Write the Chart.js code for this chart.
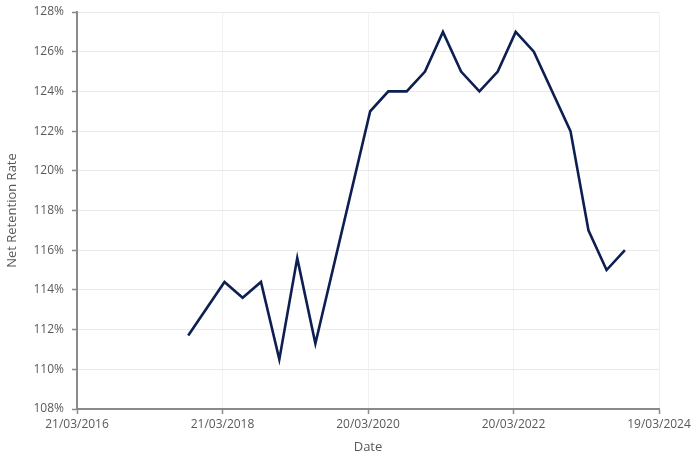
<!DOCTYPE html>
<html>
<head>
<meta charset="utf-8">
<script src="https://cdn.jsdelivr.net/npm/chart.js@4.4.1/dist/chart.umd.min.js"></script>
<style>
  html, body { margin: 0; padding: 0; background: #fff; }
  #wrap { width: 700px; height: 457px; }
</style>
</head>
<body>
<div id="wrap"><canvas id="myChart" width="700" height="457"></canvas></div>
<script>
// quarter-end dates and net retention rate (%)
var dates = ['2017-09-30', '2018-03-31', '2018-06-30', '2018-09-30', '2018-12-31',
  '2019-03-31', '2019-06-30', '2020-03-31', '2020-06-30', '2020-09-30',
  '2020-12-31', '2021-03-31', '2021-06-30', '2021-09-30', '2021-12-31',
  '2022-03-31', '2022-06-30', '2022-12-31', '2023-03-31', '2023-06-30', '2023-09-30'];
var retention = [111.7, 114.4, 113.6, 114.4, 110.5,
  115.6, 111.3, 123, 124, 124,
  125, 127, 125, 124, 125,
  127, 126, 122, 117, 115, 116];

var startDate = '2016-03-21';   // first x tick
var tickDays = 730;             // tick spacing in days
var tickCount = 4;
var yTicks = [108, 110, 112, 114, 116, 118, 120, 122, 124, 126, 128];

var DAY = 86400000;
var t0 = Date.parse(startDate);

function dayOf(s) {
  return Math.round((Date.parse(s) - t0) / DAY);
}

function fmtDate(d) {
  var dt = new Date(t0 + d * DAY);
  var dd = String(dt.getUTCDate()).padStart(2, '0');
  var mm = String(dt.getUTCMonth() + 1).padStart(2, '0');
  return dd + '/' + mm + '/' + dt.getUTCFullYear();
}

var points = dates.map(function (d, i) {
  return { x: dayOf(d), y: retention[i] };
});

var labelFont = { family: 'Open Sans', size: 12 };
var textColor = '#595959';

var ctx = document.getElementById('myChart');
var chart = new Chart(ctx, {
  type: 'line',
  data: {
    datasets: [{
      label: 'Net Retention Rate',
      data: points,
      borderColor: '#0d1f50',
      borderWidth: 2.6,
      pointRadius: 0,
      tension: 0,
      fill: false
    }]
  },
  options: {
    responsive: false,
    animation: false,
    layout: {
      padding: { left: 4, right: 41, top: 12, bottom: 0 }
    },
    plugins: {
      legend: { display: false },
      tooltip: { enabled: false }
    },
    scales: {
      x: {
        type: 'linear',
        min: 0,
        max: tickDays * tickCount,
        afterFit: function (scale) { scale.height = 48; },
        ticks: {
          stepSize: tickDays,
          color: textColor,
          font: labelFont,
          padding: 3,
          maxRotation: 0,
          callback: function (v) { return fmtDate(v); }
        },
        grid: {
          color: '#f1f1f1',
          tickColor: '#8a8a8a',
          tickLength: 5,
          tickWidth: 1.5
        },
        border: { color: '#8a8a8a', width: 2 },
        title: {
          display: true,
          text: 'Date',
          color: textColor,
          font: { family: 'Open Sans', size: 13 },
          padding: { top: 0, bottom: 2 }
        }
      },
      y: {
        min: yTicks[0],
        max: yTicks[yTicks.length - 1],
        afterFit: function (scale) {
          scale.width = 73;
          scale.paddingTop = 0;
          scale.paddingBottom = 0;
        },
        ticks: {
          stepSize: 2,
          color: textColor,
          font: labelFont,
          padding: 8,
          callback: function (v) { return v + '%'; }
        },
        grid: {
          color: '#e9e9e9',
          tickColor: '#8a8a8a',
          tickLength: 5,
          tickWidth: 1.5
        },
        border: { color: '#8a8a8a', width: 2 },
        title: {
          display: true,
          text: 'Net Retention Rate',
          color: textColor,
          font: { family: 'Open Sans', size: 13 },
          padding: 0
        }
      }
    }
  }
});
</script>
</body>
</html>
